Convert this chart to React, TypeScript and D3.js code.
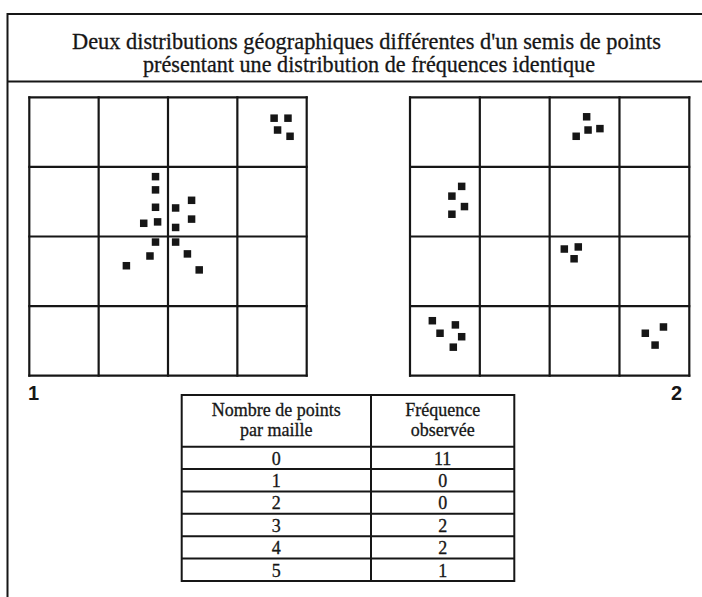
import React from "react";
import * as d3 from "d3";

const W = 702;
const H = 597;

const titleLines = [
  "Deux distributions géographiques différentes d'un semis de points",
  "présentant une distribution de fréquences identique",
];

// point positions in grid-cell units (0..4), y downward
const grid1X = [3.53, 3.73, 3.58, 3.76, 1.82, 1.82, 1.82, 2.11, 2.34, 1.65, 1.85, 2.11, 2.34, 1.82, 2.11, 1.74, 2.28, 1.40, 2.45];
const grid1Y = [0.30, 0.30, 0.47, 0.56, 1.14, 1.33, 1.58, 1.59, 1.48, 1.81, 1.79, 1.87, 1.75, 2.08, 2.08, 2.28, 2.25, 2.42, 2.48];
const grid2X = [2.53, 2.55, 2.72, 2.38, 0.74, 0.60, 0.78, 0.60, 2.21, 2.41, 2.35, 0.32, 0.43, 0.65, 0.74, 0.62, 3.63, 3.37, 3.51];
const grid2Y = [0.28, 0.47, 0.45, 0.56, 1.28, 1.42, 1.57, 1.68, 2.18, 2.15, 2.32, 3.21, 3.39, 3.27, 3.44, 3.59, 3.30, 3.39, 3.56];

const gridLabels = ["1", "2"];

const headerCol1 = ["Nombre de points", "par maille"];
const headerCol2 = ["Fréquence", "observée"];
const pointsPerCell = ["0", "1", "2", "3", "4", "5"];
const observedFrequency = ["11", "0", "0", "2", "2", "1"];

const serif = "'Liberation Serif', 'Times New Roman', serif";
const sans = "'Liberation Sans', Arial, sans-serif";
const ink = "#161616";

function Grid({ left, right, top, bottom, xs, ys }: { left: number; right: number; top: number; bottom: number; xs: number[]; ys: number[] }) {
  const x = d3.scaleLinear().domain([0, 4]).range([left, right]);
  const y = d3.scaleLinear().domain([0, 4]).range([top, bottom]);
  const ticks = d3.range(0, 5);
  const s = 7.5;
  return (
    <g>
      {ticks.map((t) => (
        <line key={"v" + t} x1={x(t)} x2={x(t)} y1={y(0) - 1} y2={y(4) + 1} stroke={ink} strokeWidth={2.2} />
      ))}
      {ticks.map((t) => (
        <line key={"h" + t} y1={y(t)} y2={y(t)} x1={x(0) - 1} x2={x(4) + 1} stroke={ink} strokeWidth={2.2} />
      ))}
      {xs.map((px, i) => (
        <rect key={"p" + i} x={x(px) - s / 2} y={y(ys[i]) - s / 2} width={s} height={s} fill={ink} />
      ))}
    </g>
  );
}

export default function App() {
  const tX = d3.scaleOrdinal<string, number>().domain(["c1", "mid", "c2"]).range([181.7, 371, 514.3]);
  const rowY = d3.scaleBand<string>().domain(pointsPerCell).range([446.7, 581]);
  const tableTop = 395;
  const col1C = (tX("c1") + tX("mid")) / 2;
  const col2C = (tX("mid") + tX("c2")) / 2;
  const txtStroke = { stroke: ink, strokeWidth: 0.3 };

  return (
    <svg width={W} height={H} style={{ position: "absolute", left: 0, top: 0, background: "#fff" }}>
      <rect x={0} y={0} width={W} height={H} fill="#fff" />
      {/* frame */}
      <line x1={7.5} x2={W} y1={14} y2={14} stroke={ink} strokeWidth={2} />
      <line x1={7.5} x2={7.5} y1={13} y2={H} stroke={ink} strokeWidth={2} />
      <line x1={7.5} x2={W} y1={81.5} y2={81.5} stroke={ink} strokeWidth={2} />
      <text x={366.5} y={48.5} textAnchor="middle" fontFamily={serif} fontSize={23} fill={ink} {...txtStroke} textLength={589} lengthAdjust="spacingAndGlyphs">
        {titleLines[0]}
      </text>
      <text x={369} y={71.5} textAnchor="middle" fontFamily={serif} fontSize={23} fill={ink} {...txtStroke} textLength={452} lengthAdjust="spacingAndGlyphs">
        {titleLines[1]}
      </text>

      <Grid left={29.3} right={306.7} top={97.3} bottom={375.7} xs={grid1X} ys={grid1Y} />
      <Grid left={410} right={689.3} top={97.3} bottom={375.7} xs={grid2X} ys={grid2Y} />

      <text x={28} y={400} fontFamily={sans} fontWeight="bold" fontSize={20} fill={ink}>{gridLabels[0]}</text>
      <text x={682} y={400} textAnchor="end" fontFamily={sans} fontWeight="bold" fontSize={20} fill={ink}>{gridLabels[1]}</text>

      {/* table */}
      <g>
        <rect x={tX("c1")} y={tableTop} width={tX("c2") - tX("c1")} height={581 - tableTop} fill="none" stroke={ink} strokeWidth={2} />
        <line x1={tX("mid")} x2={tX("mid")} y1={tableTop} y2={581} stroke={ink} strokeWidth={2} />
        {pointsPerCell.map((p) => (
          <line key={"r" + p} x1={tX("c1")} x2={tX("c2")} y1={rowY(p)!} y2={rowY(p)!} stroke={ink} strokeWidth={2} />
        ))}
        {headerCol1.map((t, i) => (
          <text key={"h1" + i} x={col1C} y={416 + i * 20} textAnchor="middle" fontFamily={serif} fontSize={18} fill={ink} {...txtStroke}>{t}</text>
        ))}
        {headerCol2.map((t, i) => (
          <text key={"h2" + i} x={col2C} y={416 + i * 20} textAnchor="middle" fontFamily={serif} fontSize={18} fill={ink} {...txtStroke}>{t}</text>
        ))}
        {pointsPerCell.map((p, i) => (
          <g key={"row" + p}>
            <text x={col1C} y={rowY(p)! + rowY.bandwidth() - 4.5} textAnchor="middle" fontFamily={serif} fontSize={18} fill={ink} {...txtStroke}>{p}</text>
            <text x={col2C} y={rowY(p)! + rowY.bandwidth() - 4.5} textAnchor="middle" fontFamily={serif} fontSize={18} fill={ink} {...txtStroke}>{observedFrequency[i]}</text>
          </g>
        ))}
      </g>
    </svg>
  );
}
